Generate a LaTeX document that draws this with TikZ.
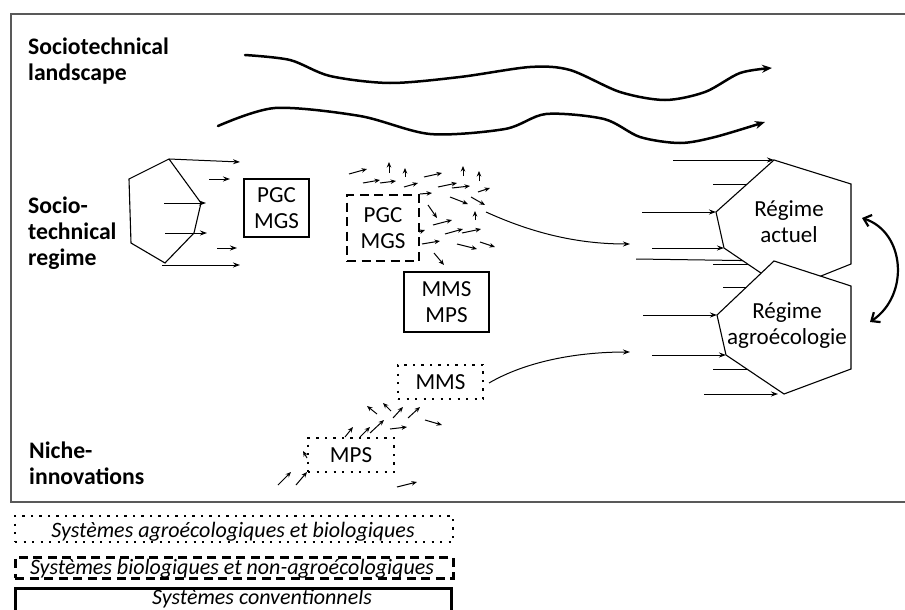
\documentclass[tikz,border=0pt]{standalone}
\usepackage{fontspec}
\setmainfont{Carlito}
\usepackage{tikz}
\usetikzlibrary{positioning,arrows.meta}
\pgfdeclarelayer{background}
\pgfsetlayers{background,main}

\begin{document}
\begin{tikzpicture}[x=1pt,y=-1pt,
	every node/.style={font=\fontsize{23}{26}\selectfont, inner sep=0pt},
	levellabel/.style={font=\fontsize{23.7}{26}\selectfont\bfseries, align=left, anchor=west},
	legtext/.style={font=\fontsize{22}{26}\selectfont\itshape, anchor=north west},
	convbox/.style={draw, line width=2.5pt, align=center},
	biobox/.style={draw, line width=2.5pt, dash pattern=on 9pt off 5.5pt, align=center},
	agrobox/.style={draw, line width=2.2pt, dash pattern=on 2.2pt off 6.3pt, align=center},
	flowarrow/.style={line width=1pt, -{Stealth[length=7pt,width=5pt]}},
	tinyarrow/.style={line width=1pt, -{Stealth[length=5.5pt,width=4.5pt]}},
	wave/.style={line width=2.5pt, line cap=round, -{Stealth[length=10pt,width=8pt]}},
	hexa/.style={draw, line width=1.1pt, line join=miter},
	]
	\useasboundingbox (0,0) rectangle (905,610);
	%Frame
	\draw[line width=1.5pt, draw=black!65] (11,14) rectangle (925,502);

	%Nodes
	\node[levellabel]      (landscape) 	at	(28,61) 	{Sociotechnical\\landscape};
	\node[levellabel]      (regimelbl) 	at	(28,233) 	{Socio-\\technical\\regime};
	\node[levellabel]      (nichelbl) 	at	(29,463) 	{Niche-\\innovations};

	\node[convbox, minimum width=65pt, minimum height=58pt]   (pgc)      at (276.5,208)  {PGC\\MGS};
	\node[biobox,  minimum width=72pt, minimum height=66pt]   (pgcbio)   at (383,228)    {PGC\\MGS};
	\node[convbox, minimum width=85pt, minimum height=60pt]   (mmsmps)   at (446.5,302)  {MMS\\MPS};
	\node[agrobox, minimum width=85pt, minimum height=34pt]   (mmsniche) at (440.5,382)  {MMS};
	\node[agrobox, minimum width=86pt, minimum height=34pt]   (mpsniche) at (351,455)    {MPS};

	%Regimes
	\coordinate (lh1) at (129,179); \coordinate (lh2) at (169,159); \coordinate (lh3) at (201,203);
	\coordinate (lh4) at (194,233); \coordinate (lh5) at (165,263); \coordinate (lh6) at (131,243);
	\coordinate (ra1) at (774,160); \coordinate (ra2) at (851,184); \coordinate (ra3) at (851,264);
	\coordinate (ra4) at (786,290); \coordinate (ra5) at (724,248); \coordinate (ra6) at (716,212);
	\coordinate (rb1) at (774,261); \coordinate (rb2) at (851,286); \coordinate (rb3) at (851,369);
	\coordinate (rb4) at (784,394); \coordinate (rb5) at (726,355); \coordinate (rb6) at (717,315);

	\draw[hexa] (lh1) -- (lh2) -- (lh3) -- (lh4) -- (lh5) -- (lh6) -- cycle;
	\draw[hexa, fill=white] (ra1) -- (ra2) -- (ra3) -- (ra4) -- (ra5) -- (ra6) -- cycle;
	\draw[hexa, fill=white] (rb1) -- (rb2) -- (rb3) -- (rb4) -- (rb5) -- (rb6) -- cycle;
	\node[align=center] (actuel) at (789,222) {Régime\\actuel};
	\node[align=center] (agro)   at (787,326) {Régime\\agroécologie};

	%Landscape
	\draw[wave] plot[smooth] coordinates {(245,55) (290,60) (330,76) (390,83) (460,77) (530,67) (570,70) (620,92) (665,100) (705,92) (740,73) (772,68)};
	\draw[wave] plot[smooth] coordinates {(218,126) (275,108) (360,116) (430,134) (505,129) (546,114) (604,119) (640,137) (680,143) (715,137) (765,122)};

	%Switch between regimes
	\coordinate (swapa) at (862,218);
	\coordinate (swapb) at (870,322);
	\draw[line width=2.2pt, {Straight Barb[length=7pt,width=12pt]}-{Straight Barb[length=7pt,width=12pt]}] (swapa) .. controls (905,232) and (910,295) .. (swapb);

	\begin{pgfonlayer}{background}
	%Lines
	\coordinate (ls1) at (240,162); \coordinate (ls3) at (206,203);
	\coordinate (ls4) at (207,233); \coordinate (ls5) at (240,265);
	\draw[flowarrow] (lh2) -- (ls1);
	\draw[flowarrow] (209,179) -- (230,179);
	\draw[flowarrow] (164,203) -- (ls3);
	\draw[flowarrow] (165,233) -- (ls4);
	\draw[flowarrow] (217,248) -- (237,248);
	\draw[flowarrow] (162,265) -- (ls5);

	\coordinate (clusterout) at (486,212); \coordinate (regimein) at (630,244);
	\coordinate (nicheout) at (489,383);   \coordinate (nichein) at (630,352);
	\draw[flowarrow] (clusterout) .. controls (530,232) and (575,244) .. (regimein);
	\draw[flowarrow] (nicheout) .. controls (525,362) and (575,352) .. (nichein);

	\draw[flowarrow] (673,160) -- (ra1);
	\draw[flowarrow] (713,184) -- (765,184);
	\draw[flowarrow] (642,212) -- (ra6);
	\draw[flowarrow] (652,248) -- (ra5);
	\draw[flowarrow] (636,259) -- (rb1);
	\draw[flowarrow] (713,264) -- (760,264);
	\draw[flowarrow] (723,287) -- (765,287);
	\draw[flowarrow] (643,315) -- (rb6);
	\draw[flowarrow] (652,355) -- (rb5);
	\draw[flowarrow] (713,369) -- (765,369);
	\draw[flowarrow] (704,394) -- (778,394);

	% scattered arrows of the regime
	\foreach \xa/\ya/\xb/\yb in {349/174/367/169, 389/173/389/162, 405/177/405/168, 363/183/380/180,
		380/183/396/181, 404/187/418/183, 424/177/442/173, 463/176/463/166, 479/181/479/171,
		438/187/457/183, 452/188/470/186, 478/192/490/188, 420/194/432/193, 450/197/468/204,
		471/197/485/205, 428/205/437/218, 475/220/475/211, 433/225/452/220, 445/234/463/229,
		462/233/481/229, 419/232/425/230, 422/244/440/241, 457/244/477/249, 480/242/495/247,
		434/253/444/265}
		\draw[tinyarrow] (\xa,\ya) -- (\xb,\yb);
	% scattered arrows of the niches
	\foreach \xa/\ya/\xb/\yb in {278/485/291/472, 296/485/307/472, 307/458/303/451, 345/437/353/427,
		360/437/370/427, 370/433/384/420, 390/429/407/427, 377/414/367/406, 391/411/383/403,
		393/418/403/407, 408/418/420/407, 425/420/442/425, 397/487/417/482}
		\draw[tinyarrow] (\xa,\ya) -- (\xb,\yb);
	\end{pgfonlayer}

	%Legend
	\node[agrobox, minimum width=438pt, minimum height=26pt, anchor=north west] (legagro) at (14,515) {};
	\node[legtext, anchor=base] (legagrotext) at (233,537) {Systèmes agroécologiques et biologiques};
	\node[biobox, minimum width=438pt, minimum height=21pt, anchor=north west] (legbio) at (14,556) {};
	\node[legtext, anchor=base] (legbiotext) at (232,574) {Systèmes biologiques et non-agroécologiques};
	\node[convbox, minimum width=436pt, minimum height=40pt, anchor=north west] (legconv) at (14,587) {};
	\node[legtext, anchor=base] (legconvtext) at (262,604) {Systèmes conventionnels};
\end{tikzpicture}
\end{document}
